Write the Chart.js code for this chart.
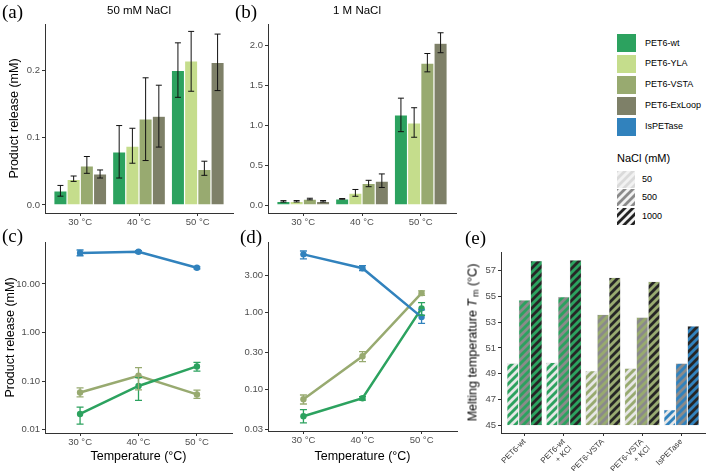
<!DOCTYPE html>
<html>
<head>
<meta charset="utf-8">
<script src="https://cdn.jsdelivr.net/npm/chart.js"></script>
<style>
  body { margin: 0; background: #fff; }
  #fig { position: relative; width: 709px; height: 471px; overflow: hidden; font-family: "Liberation Sans", Arial, sans-serif; color: #000; }
  #fig canvas { position: absolute; }
  .tag { position: absolute; font-family: "Liberation Serif", serif; font-size: 19px; line-height: 1; }
  .ttl { position: absolute; font-size: 11.5px; line-height: 1; transform: translateX(-50%); white-space: nowrap; }
  .key { position: absolute; left: 617px; width: 19px; height: 18px; }
  .lab { position: absolute; font-size: 9px; line-height: 1; white-space: nowrap; }
</style>
</head>
<body>
<div id="fig">
  <canvas id="ca" width="236" height="232" style="left:0;top:0"></canvas>
  <canvas id="cb" width="226" height="232" style="left:236px;top:0"></canvas>
  <canvas id="cc" width="236" height="237" style="left:0;top:234px"></canvas>
  <canvas id="cd" width="226" height="237" style="left:236px;top:234px"></canvas>
  <canvas id="ce" width="247" height="237" style="left:462px;top:234px"></canvas>

  <div class="tag" style="left:2px;top:2px">(a)</div>
  <div class="tag" style="left:235px;top:2px">(b)</div>
  <div class="tag" style="left:2px;top:226px">(c)</div>
  <div class="tag" style="left:240px;top:227px">(d)</div>
  <div class="tag" style="left:465px;top:228px">(e)</div>

  <div class="ttl" style="left:139px;top:5px">50 mM NaCl</div>
  <div class="ttl" style="left:357px;top:5px">1 M NaCl</div>

  <div id="tmTitle" style="position:absolute;left:373px;top:334px;width:200px;text-align:center;font-size:12.5px;line-height:16px;transform:rotate(-90deg);white-space:nowrap">Melting temperature <i>T</i><span style="font-size:9px;position:relative;top:2px;margin-left:2px">m</span> (°C)</div>

  <div id="legend"></div>
</div>
<script>
const temps = ['30 °C', '40 °C', '50 °C'];
const variants = ['PET6-wt', 'PET6-YLA', 'PET6-VSTA', 'PET6-ExLoop', 'IsPETase'];
const colors = ['#2ca25f', '#c5dd8c', '#98aa70', '#7e8068', '#3182bd'];

// (a) 50 mM NaCl: product release (mM), with error bar ends
const s50_wt = [0.021, 0.079, 0.200];
const s50_wt_lo = [0.013, 0.040, 0.160];
const s50_wt_hi = [0.029, 0.118, 0.241];
const s50_yla = [0.038, 0.0875, 0.214];
const s50_yla_lo = [0.035, 0.062, 0.169];
const s50_yla_hi = [0.043, 0.114, 0.258];
const s50_vsta = [0.058, 0.128, 0.053];
const s50_vsta_lo = [0.047, 0.066, 0.044];
const s50_vsta_hi = [0.072, 0.189, 0.065];
const s50_exloop = [0.046, 0.132, 0.212];
const s50_exloop_lo = [0.040, 0.086, 0.170];
const s50_exloop_hi = [0.052, 0.178, 0.254];
const s50_is = [43.5, 46, 21.5];
const s50_is_lo = [38, 43.5, 20.5];
const s50_is_hi = [50, 48.5, 22.5];

// (b) 1 M NaCl
const s1000_wt = [0.045, 0.077, 1.13];
const s1000_wt_lo = [0.037, 0.073, 0.92];
const s1000_wt_hi = [0.055, 0.081, 1.34];
const s1000_yla = [0.047, 0.15, 1.03];
const s1000_yla_lo = [0.038, 0.11, 0.85];
const s1000_yla_hi = [0.056, 0.195, 1.22];
const s1000_vsta = [0.075, 0.27, 1.78];
const s1000_vsta_lo = [0.065, 0.23, 1.67];
const s1000_vsta_hi = [0.085, 0.31, 1.90];
const s1000_exloop = [0.047, 0.30, 2.03];
const s1000_exloop_lo = [0.038, 0.22, 1.91];
const s1000_exloop_hi = [0.056, 0.39, 2.16];
const s1000_is = [5.67, 3.75, 0.87];
const s1000_is_lo = [4.94, 3.5, 0.72];
const s1000_is_hi = [6.27, 4.05, 1.08];

// (e) melting temperatures
const tmSamples = ['PET6-wt', ['PET6-wt', '+ KCl'], 'PET6-VSTA', ['PET6-VSTA', '+ KCl'], 'IsPETase'];
const tmColor = [0, 0, 2, 2, 4];
const naclLevels = ['50', '500', '1000'];
const tm50 = [49.82, 49.87, 49.23, 49.43, 46.21];
const tm500 = [54.72, 54.97, 53.6, 53.38, 49.82];
const tm1000 = [57.76, 57.81, 56.47, 56.16, 52.7];
const stripeColors = ['#e6e6e6', '#8a8a8a', '#262626'];

Chart.defaults.font.family = 'Liberation Sans';
const grey = '#4d4d4d';
const pts = vals => vals.map((v, i) => ({ x: i + 1, y: v }));

const errorBars = {
  id: 'errorBars',
  afterDatasetsDraw(chart) {
    const ctx = chart.ctx, y = chart.scales.y;
    chart.data.datasets.forEach((ds, i) => {
      if (!ds.lo) return;
      chart.getDatasetMeta(i).data.forEach((el, j) => {
        const t = y.getPixelForValue(ds.hi[j]), b = y.getPixelForValue(ds.lo[j]);
        const w = ds.cap || 3;
        ctx.save();
        ctx.strokeStyle = ds.errColor || '#111';
        ctx.lineWidth = ds.errWidth || 1;
        ctx.beginPath();
        ctx.moveTo(el.x, t); ctx.lineTo(el.x, b);
        ctx.moveTo(el.x - w, t); ctx.lineTo(el.x + w, t);
        ctx.moveTo(el.x - w, b); ctx.lineTo(el.x + w, b);
        ctx.stroke();
        ctx.restore();
      });
    });
  }
};

function xScale(n, height, labels, extra) {
  return Object.assign({
    type: 'linear', min: 0.4, max: n + 0.6, offset: false,
    afterBuildTicks: s => { s.ticks = labels.map((_, i) => ({ value: i + 1 })); },
    afterFit: s => { s.height = height; },
    ticks: { callback: v => labels[v - 1], color: grey, font: { size: 9.5 }, padding: 1, maxRotation: 0, autoSkip: false },
    grid: { drawOnChartArea: false, offset: false, tickLength: 3, color: '#333' },
    border: { color: '#333', width: 1 }
  }, extra || {});
}

function yScale(type, min, max, ticks, fmt, width, title, titlePad) {
  return {
    type, min, max,
    afterBuildTicks: s => { s.ticks = ticks.map(v => ({ value: v })); },
    afterFit: s => { s.width = width; },
    ticks: { callback: v => v.toFixed(fmt), color: grey, font: { size: 9.5 }, padding: 2 },
    grid: { drawOnChartArea: false, tickLength: 3, color: '#333' },
    border: { color: '#333', width: 1 },
    title: title ? { display: true, text: title, color: '#000', font: { size: 12.5 }, padding: { top: titlePad, bottom: 0 } } : { display: false }
  };
}

const tempTitle = { display: true, text: 'Temperature (°C)', color: '#000', font: { size: 12.5 }, padding: { top: 0, bottom: 7 } };

function barSet(i, vals, lo, hi) {
  return { label: variants[i], data: pts(vals), lo, hi, backgroundColor: colors[i], borderColor: '#fff', borderWidth: 0.6,
    categoryPercentage: 0.9, barPercentage: 1, cap: 3 };
}
function lineSet(i, vals, lo, hi) {
  return { label: variants[i], data: pts(vals), lo, hi, borderColor: colors[i], backgroundColor: colors[i], borderWidth: 2.5,
    pointRadius: 3.2, pointBorderWidth: 0, errColor: colors[i], errWidth: 1.3, cap: 3.5 };
}

const common = { responsive: false, animation: false, devicePixelRatio: 1, plugins: { legend: { display: false }, tooltip: { enabled: false } } };

new Chart(document.getElementById('ca'), {
  type: 'bar',
  data: { datasets: [
    barSet(0, s50_wt, s50_wt_lo, s50_wt_hi),
    barSet(1, s50_yla, s50_yla_lo, s50_yla_hi),
    barSet(2, s50_vsta, s50_vsta_lo, s50_vsta_hi),
    barSet(3, s50_exloop, s50_exloop_lo, s50_exloop_hi)
  ] },
  options: Object.assign({}, common, {
    layout: { padding: { top: 24, right: 3, left: 0, bottom: 0 } },
    scales: { x: xScale(3, 19, temps), y: yScale('linear', -0.012, 0.269, [0, 0.1, 0.2], 1, 45, 'Product release (mM)', 7.5) }
  }),
  plugins: [errorBars]
});

new Chart(document.getElementById('cb'), {
  type: 'bar',
  data: { datasets: [
    barSet(0, s1000_wt, s1000_wt_lo, s1000_wt_hi),
    barSet(1, s1000_yla, s1000_yla_lo, s1000_yla_hi),
    barSet(2, s1000_vsta, s1000_vsta_lo, s1000_vsta_hi),
    barSet(3, s1000_exloop, s1000_exloop_lo, s1000_exloop_hi)
  ] },
  options: Object.assign({}, common, {
    layout: { padding: { top: 24, right: 6, left: 0, bottom: 0 } },
    scales: { x: xScale(3, 19, temps), y: yScale('linear', -0.1, 2.27, [0, 0.5, 1, 1.5, 2], 1, 32) }
  }),
  plugins: [errorBars]
});

new Chart(document.getElementById('cc'), {
  type: 'line',
  data: { datasets: [
    lineSet(4, s50_is, s50_is_lo, s50_is_hi),
    lineSet(0, s50_wt, s50_wt_lo, s50_wt_hi),
    lineSet(2, s50_vsta, s50_vsta_lo, s50_vsta_hi)
  ] },
  options: Object.assign({}, common, {
    layout: { padding: { top: 8, right: 3, left: 0, bottom: 0 } },
    scales: { x: xScale(3, 38, temps, { title: tempTitle }), y: yScale('logarithmic', 0.0085, 73, [0.01, 0.1, 1, 10], 2, 45, 'Product release (mM)', 3.5) }
  }),
  plugins: [errorBars]
});

new Chart(document.getElementById('cd'), {
  type: 'line',
  data: { datasets: [
    lineSet(4, s1000_is, s1000_is_lo, s1000_is_hi),
    lineSet(0, s1000_wt, s1000_wt_lo, s1000_wt_hi),
    lineSet(2, s1000_vsta, s1000_vsta_lo, s1000_vsta_hi)
  ] },
  options: Object.assign({}, common, {
    layout: { padding: { top: 8, right: 5, left: 0, bottom: 0 } },
    scales: { x: xScale(3, 40, temps, { title: tempTitle }), y: yScale('logarithmic', 0.029, 8.2, [0.03, 0.1, 0.3, 1, 3], 2, 32) }
  }),
  plugins: [errorBars]
});

// striped fills for the NaCl levels in (e)
function stripes(ctx, bg, fg, size) {
  const c = document.createElement('canvas');
  c.width = c.height = size;
  const x = c.getContext('2d');
  x.fillStyle = bg; x.fillRect(0, 0, size, size);
  x.strokeStyle = fg; x.lineWidth = size * 0.35;
  x.beginPath();
  x.moveTo(0, size); x.lineTo(size, 0);
  x.moveTo(-size / 2, size / 2); x.lineTo(size / 2, -size / 2);
  x.moveTo(size / 2, size * 1.5); x.lineTo(size * 1.5, size / 2);
  x.stroke();
  return ctx.createPattern(c, 'repeat');
}

const ceCtx = document.getElementById('ce').getContext('2d');
const tmSets = [tm50, tm500, tm1000].map((vals, k) => ({
  label: naclLevels[k],
  data: vals.map((v, i) => ({ x: i + 1, y: [45, v] })),
  backgroundColor: tmColor.map(ci => stripes(ceCtx, colors[ci], stripeColors[k], 8)),
  borderColor: '#dcdcdc', borderWidth: 0.5,
  categoryPercentage: 0.9, barPercentage: 1
}));

new Chart(document.getElementById('ce'), {
  type: 'bar',
  data: { datasets: tmSets },
  options: Object.assign({}, common, {
    layout: { padding: { top: 18, right: 4, left: 0, bottom: 0 } },
    scales: {
      x: xScale(5, 38, tmSamples, { ticks: { callback: v => tmSamples[v - 1], color: '#3a3a3a', font: { size: 8 }, padding: 1, minRotation: 45, maxRotation: 45, autoSkip: false } }),
      y: yScale('linear', 44.4, 58.44, [45, 47, 49, 51, 53, 55, 57], 0, 39)
    }
  })
});

// legends
const leg = document.getElementById('legend');
variants.forEach((name, i) => {
  const top = 34 + i * 20.9;
  leg.insertAdjacentHTML('beforeend',
    `<div class="key" style="top:${top}px;background:${colors[i]}"></div>` +
    `<div class="lab" style="left:645px;top:${top + 4.5}px">${name}</div>`);
});
leg.insertAdjacentHTML('beforeend', '<div class="lab" style="left:617px;top:153px;font-size:11px">NaCl (mM)</div>');
naclLevels.forEach((lvl, k) => {
  const top = 171 + k * 18.3;
  const cv = document.createElement('canvas');
  cv.width = 18; cv.height = 17;
  cv.style.left = '617px'; cv.style.top = top + 'px';
  const g = cv.getContext('2d');
  g.fillStyle = stripes(g, '#f2f2f2', ['#dadada', '#8a8a8a', '#222'][k], 8);
  g.fillRect(0, 0, 18, 17);
  leg.appendChild(cv);
  leg.insertAdjacentHTML('beforeend', `<div class="lab" style="left:642px;top:${top + 4}px">${lvl}</div>`);
});
</script>
</body>
</html>
